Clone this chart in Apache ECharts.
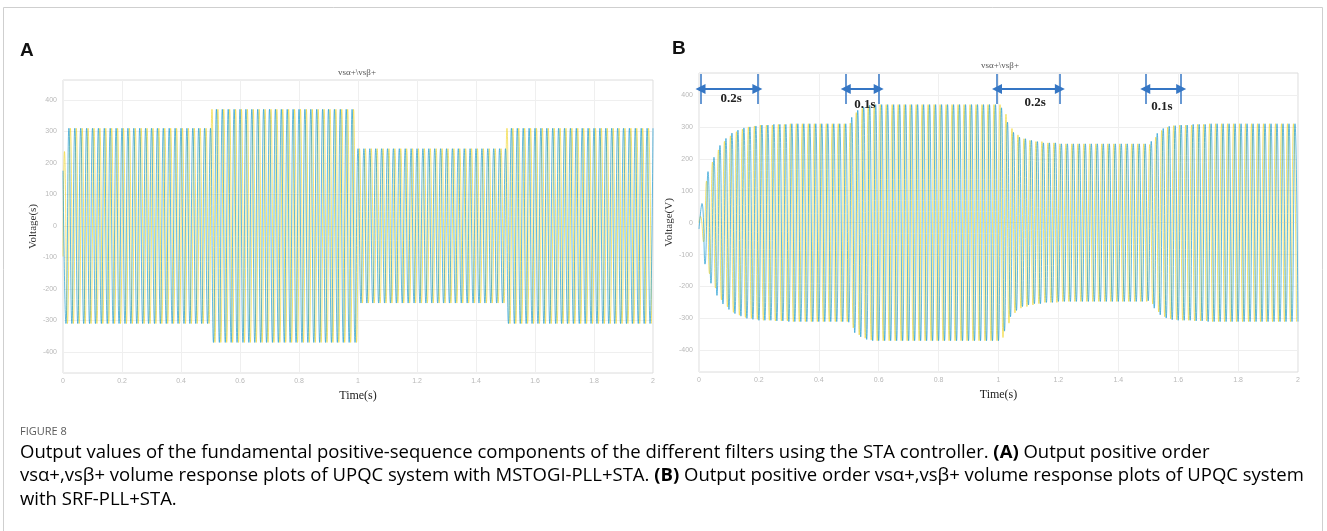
<!DOCTYPE html>
<html>
<head>
<meta charset="utf-8">
<title>Figure 8</title>
<script src="https://cdn.jsdelivr.net/npm/echarts@6/dist/echarts.min.js"></script>
<style>
html, body { margin: 0; padding: 0; background: #fff; }
#main { width: 1327px; height: 531px; }
</style>
</head>
<body>
<div id="main"></div>
<script>
// values
var yTicks = [-400, -300, -200, -100, 0, 100, 200, 300, 400];
var halfPeriod = 0.01; // 100 cycles over 2 s

// panel A: peak voltage, held from each time on
var envTimeA = [0, 0.505, 1.0, 1.505];
var envPeakA = [310, 370, 245, 310];
var startAlphaA = [[0, -97], [0.005, 236]];
var startBetaA = [[0, 175]];

// panel B: peak voltage, held from each time on
var envTimeB = [0, 0.01, 0.02, 0.03, 0.04, 0.05, 0.06, 0.07, 0.08, 0.09, 0.10, 0.11, 0.12, 0.13, 0.14, 0.15, 0.16, 0.18, 0.20, 0.25, 0.30,
    0.50, 0.51, 0.52, 0.53, 0.54, 0.55, 0.56, 0.57, 0.58,
    1.00, 1.01, 1.02, 1.03, 1.04, 1.05, 1.06, 1.07, 1.08, 1.10, 1.12, 1.15, 1.20,
    1.50, 1.51, 1.52, 1.53, 1.54, 1.55, 1.56, 1.57, 1.58, 1.60, 1.65, 1.70];
var envPeakB = [20, 60, 130, 160, 190, 205, 228, 242, 255, 264, 272, 281, 285, 290, 293, 297, 300, 303, 306, 308, 310,
    312, 330, 345, 352, 358, 362, 366, 368, 370,
    370, 360, 340, 315, 295, 283, 275, 268, 263, 258, 254, 250, 247,
    245, 255, 268, 280, 289, 295, 299, 302, 304, 306, 308, 310];
var startAlphaB = [[0, 0]];

// time spans marked in panel B: [from, to, label time, label voltage, label]
var spansB = [
    [0.005, 0.195, 0.107, 388, '0.2s'],
    [0.49, 0.60, 0.554, 369, '0.1s'],
    [0.995, 1.205, 1.122, 375, '0.2s'],
    [1.49, 1.61, 1.546, 363, '0.1s']
];
var bracketLow = 372, bracketHigh = 466, arrowLevel = 419;

function holdPeak(times, peaks, t) {
    var v = peaks[0];
    for (var i = 0; i < times.length; i++) {
        if (t >= times[i] - 1e-9) v = peaks[i];
    }
    return v;
}

// one point per peak, alternating sign
function peakPoints(times, peaks, firstT, firstSign, start) {
    var pts = start ? start.slice() : [];
    for (var k = 0; ; k++) {
        var t = +(firstT + k * halfPeriod).toFixed(4);
        if (t > 2) break;
        var s = k % 2 ? -firstSign : firstSign;
        pts.push([t, s * holdPeak(times, peaks, t)]);
    }
    return pts;
}

var alphaA = peakPoints(envTimeA, envPeakA, 0.015, -1, startAlphaA);
var betaA = peakPoints(envTimeA, envPeakA, 0.01, -1, startBetaA);
var alphaB = peakPoints(envTimeB, envPeakB, 0.005, 1, startAlphaB);
var betaB = peakPoints(envTimeB, envPeakB, 0, -1, null);

var chart = echarts.init(document.getElementById('main'), null, { renderer: 'canvas' });

var tickLabel = { color: '#b8b8b8', fontSize: 7, fontFamily: 'Liberation Sans' };
var serifName = { fontFamily: 'Liberation Serif', fontSize: 12, color: '#222' };

function xAxisFor(idx) {
    return {
        gridIndex: idx, type: 'value', min: 0, max: 2, interval: 0.2,
        axisLine: { show: false }, axisTick: { show: false },
        axisLabel: Object.assign({ margin: 5 }, tickLabel),
        splitLine: { show: true, lineStyle: { color: '#efefef' } },
        name: 'Time(s)', nameLocation: 'middle', nameGap: 15, nameTextStyle: serifName
    };
}
function yAxisFor(idx, min, max, name) {
    return {
        gridIndex: idx, type: 'value', min: min, max: max,
        axisLine: { show: false },
        axisTick: { show: false, customValues: yTicks },
        axisLabel: Object.assign({ margin: 6, customValues: yTicks }, tickLabel),
        splitLine: { show: true, lineStyle: { color: '#efefef' } },
        name: name, nameLocation: 'middle', nameGap: 17,
        nameTextStyle: { fontFamily: 'Liberation Serif', fontSize: 11, color: '#333' }
    };
}
function wave(name, idx, data, color) {
    return {
        name: name, type: 'line', xAxisIndex: idx, yAxisIndex: idx,
        data: data, smooth: true, showSymbol: false, silent: true,
        lineStyle: { width: 1, color: color, opacity: 0.7 }
    };
}

var bracketLines = [], arrowLines = [], spanLabels = [];
spansB.forEach(function (s) {
    bracketLines.push([{ coord: [s[0], bracketLow] }, { coord: [s[0], bracketHigh] }]);
    bracketLines.push([{ coord: [s[1], bracketLow] }, { coord: [s[1], bracketHigh] }]);
    arrowLines.push([{ coord: [s[0], arrowLevel] }, { coord: [s[1], arrowLevel] }]);
    spanLabels.push({ name: s[4], coord: [s[2], s[3]] });
});

var captionRich = {
    n: { fontFamily: 'Open Sans', fontSize: 18.5, color: '#5f5f5f', lineHeight: 23.5 },
    b: { fontFamily: 'Open Sans', fontSize: 18.5, fontWeight: 'bold', color: '#5f5f5f', lineHeight: 23.5 }
};

var option = {
    animation: false,
    backgroundColor: '#fff',
    grid: [
        { left: 63, top: 80, width: 590, height: 293, show: true, borderColor: '#dcdcdc', borderWidth: 1 },
        { left: 699, top: 73, width: 599, height: 299, show: true, borderColor: '#dcdcdc', borderWidth: 1 }
    ],
    xAxis: [xAxisFor(0), xAxisFor(1)],
    yAxis: [yAxisFor(0, -467, 463, 'Voltage(s)'), yAxisFor(1, -468, 469, 'Voltage(V)')],
    series: [
        wave('vsα+', 0, alphaA, '#f2d936'),
        wave('vsβ+', 0, betaA, '#1f9bd1'),
        wave('vsα+', 1, alphaB, '#f2d936'),
        wave('vsβ+', 1, betaB, '#1f9bd1'),
        {
            type: 'line', xAxisIndex: 1, yAxisIndex: 1, data: [], silent: true,
            markLine: {
                silent: true, symbol: ['none', 'none'], animation: false,
                label: { show: false },
                lineStyle: { color: '#3576c4', width: 1.5, type: 'solid' },
                data: bracketLines
            }
        },
        {
            type: 'line', xAxisIndex: 1, yAxisIndex: 1, data: [], silent: true,
            markLine: {
                silent: true, symbol: ['triangle', 'triangle'], symbolSize: [10, 10], animation: false,
                label: { show: false },
                lineStyle: { color: '#3576c4', width: 2, type: 'solid' },
                data: arrowLines
            },
            markPoint: {
                silent: true, symbol: 'circle', symbolSize: 0, animation: false,
                label: {
                    show: true, position: 'inside', formatter: '{b}',
                    fontFamily: 'Liberation Serif', fontWeight: 'bold', fontSize: 13, color: '#222'
                },
                data: spanLabels
            }
        }
    ],
    graphic: [
        { type: 'rect', shape: { x: 3.5, y: 7.5, width: 1319, height: 540 }, style: { fill: 'none', stroke: '#cfcfcf', lineWidth: 1 }, silent: true },
        { type: 'text', left: 20, top: 41, style: { text: 'A', font: 'bold 19px "Liberation Sans"', fill: '#111' } },
        { type: 'text', left: 672, top: 39, style: { text: 'B', font: 'bold 19px "Liberation Sans"', fill: '#111' } },
        { type: 'text', left: 338, top: 68, style: { text: 'vsα+\\vsβ+', font: '9px "Liberation Serif"', fill: '#555' } },
        { type: 'text', left: 981, top: 61, style: { text: 'vsα+\\vsβ+', font: '9px "Liberation Serif"', fill: '#555' } },
        { type: 'text', left: 20, top: 426, style: { text: 'FIGURE 8', font: '11px "Open Sans"', fill: '#5a5a5a' } },
        {
            type: 'text', left: 20, top: 443,
            style: {
                text: '{n|Output values of the fundamental positive-sequence components of the different filters using the STA controller. }{b|(A)}{n| Output positive order}\n' +
                    '{n|vsα+,vsβ+ volume response plots of UPQC system with MSTOGI-PLL+STA. }{b|(B)}{n| Output positive order vsα+,vsβ+ volume response plots of UPQC system}\n' +
                    '{n|with SRF-PLL+STA.}',
                rich: captionRich
            }
        }
    ]
};

chart.setOption(option);
</script>
</body>
</html>
